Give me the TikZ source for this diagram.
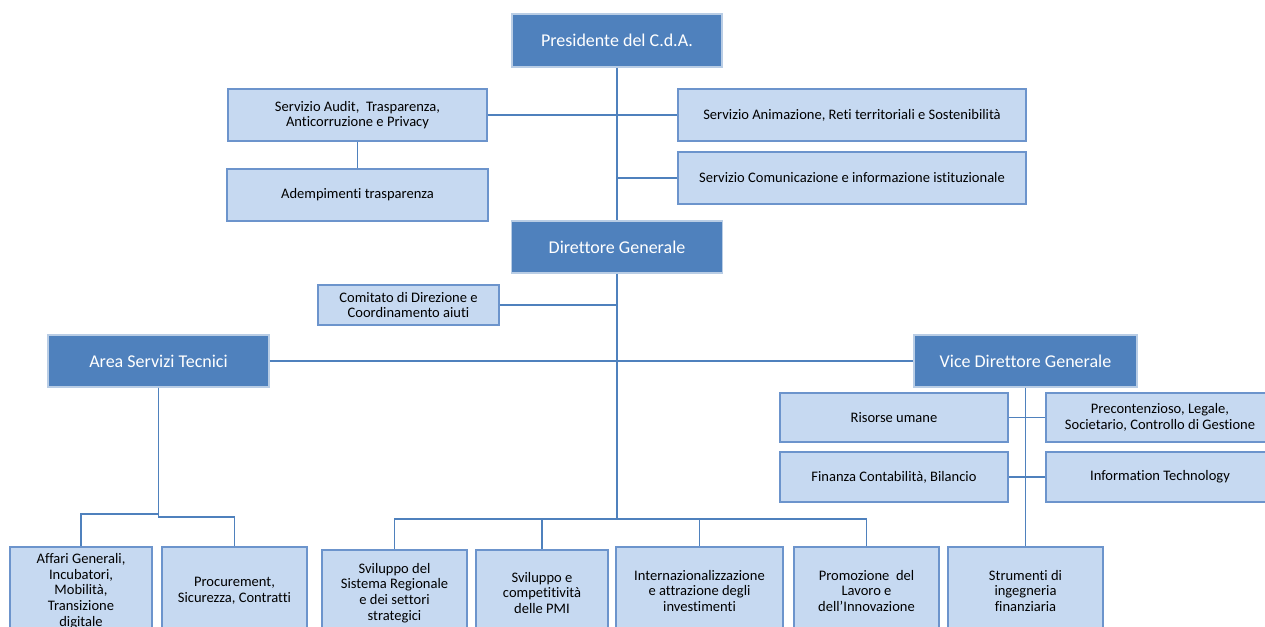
\documentclass[tikz,border=0pt]{standalone}
\usepackage{fontspec}
\setmainfont{Carlito}[Ligatures={NoCommon}]
\usetikzlibrary{positioning}

\definecolor{headblue}{HTML}{4F81BD}
\definecolor{headedge}{HTML}{B9CDE5}
\definecolor{unitfill}{HTML}{C6D9F1}
\definecolor{unitedge}{HTML}{6C94CC}
\definecolor{linkblue}{HTML}{4F81BD}

\tikzset{
  wh/.style 2 args={minimum width=#1*0.75pt, minimum height=#2*0.75pt},
  head/.style={draw=headedge, fill=headblue, text=white, line width=0.8pt, inner sep=0pt,
    font=\fontsize{13.5}{15}\selectfont},
  unit/.style={draw=unitedge, fill=unitfill, text=black, line width=0.9pt, inner sep=0pt,
    align=center, font=\fontsize{10.9}{11.8}\selectfont},
  link/.style={draw=linkblue, line width=0.8pt}
}

\begin{document}
\begin{tikzpicture}[x=0.75pt,y=-0.75pt]
\useasboundingbox (0,0) rectangle (1265,627);
\clip (0,0) rectangle (1265,627);
% top management
\node[head,wh={210}{53}] (pres) at (617,40.5) {Presidente del C.d.A.};
\node[head,wh={211}{52}] (dir) at (617,247) {Direttore Generale};
\node[unit,wh={259}{52}] (audit) at (357.5,115) {Servizio Audit,~ Trasparenza,\\Anticorruzione e Privacy};
\node[unit,wh={261}{52}] (adem) at (357.5,195) {Adempimenti trasparenza};
\node[unit,wh={348}{52}] (anim) at (852,115) {Servizio Animazione, Reti territoriali e Sostenibilità};
\node[unit,wh={348}{52}] (comu) at (852,178) {Servizio Comunicazione e informazione istituzionale};
\node[unit,wh={181}{40}] (comi) at (408.5,305) {Comitato di Direzione e\\Coordinamento aiuti};
% second level
\node[head,wh={221}{52}] (area) at (158.5,361) {Area Servizi Tecnici};
\node[head,wh={223}{52}] (vice) at (1025.5,361) {Vice Direttore Generale};
\node[unit,wh={228}{49}] (risorse) at (894,417.5) {Risorse umane};
\node[unit,wh={228}{49}] (precon) at (1160,417.5) {Precontenzioso, Legale,\\Societario, Controllo di Gestione};
\node[unit,wh={228}{50}] (finanza) at (894,477) {Finanza Contabilità, Bilancio};
\node[unit,wh={228}{50}] (infotech) at (1160,477) {Information Technology};
% bottom row
\node[unit,wh={142}{88}] (affari) at (81,591) {Affari Generali,\\Incubatori,\\Mobilità,\\Transizione\\digitale};
\node[unit,wh={145}{88}] (procur) at (234.5,591) {Procurement,\\Sicurezza, Contratti};
\node[unit,wh={145}{86}] (svsis) at (394.5,593) {Sviluppo del\\Sistema Regionale\\e dei settori\\strategici};
\node[unit,wh={132}{86}] (svpmi) at (542,593) {Sviluppo e\\competitività\\delle PMI};
\node[unit,wh={167}{88}] (intern) at (699.5,591) {Internazionalizzazione\\e attrazione degli\\investimenti};
\node[unit,wh={145}{88}] (promo) at (866.5,591) {Promozione~ del\\Lavoro e\\dell’Innovazione};
\node[unit,wh={155}{88}] (strum) at (1025.5,591) {Strumenti di\\ingegneria\\finanziaria};
\coordinate (hub) at (617,519);
% connectors
\draw[link] (pres) -- (dir);
\draw[link] (audit.east) -- (anim.west);
\draw[link] (audit) -- (adem);
\draw[link] (comu.west) -- (comu.west -| dir.north);
\draw[link] (dir) -- (hub);
\draw[link] (comi.east) -- (comi.east -| dir.south);
\draw[link] (area.east) -- (vice.west);
\draw[link] (area.south) -- (area.south |- 0,514) -| (affari.north);
\draw[link] (area.south) -- (area.south |- 0,517) -| (procur.north);
\draw[link] (hub) -| (svsis.north);
\draw[link] (hub) -| (svpmi.north);
\draw[link] (hub) -| (intern.north);
\draw[link] (hub) -| (promo.north);
\draw[link] (vice) -- (strum);
\draw[link] (risorse.east) -- (precon.west);
\draw[link] (finanza.east) -- (infotech.west);
\end{tikzpicture}
\end{document}
